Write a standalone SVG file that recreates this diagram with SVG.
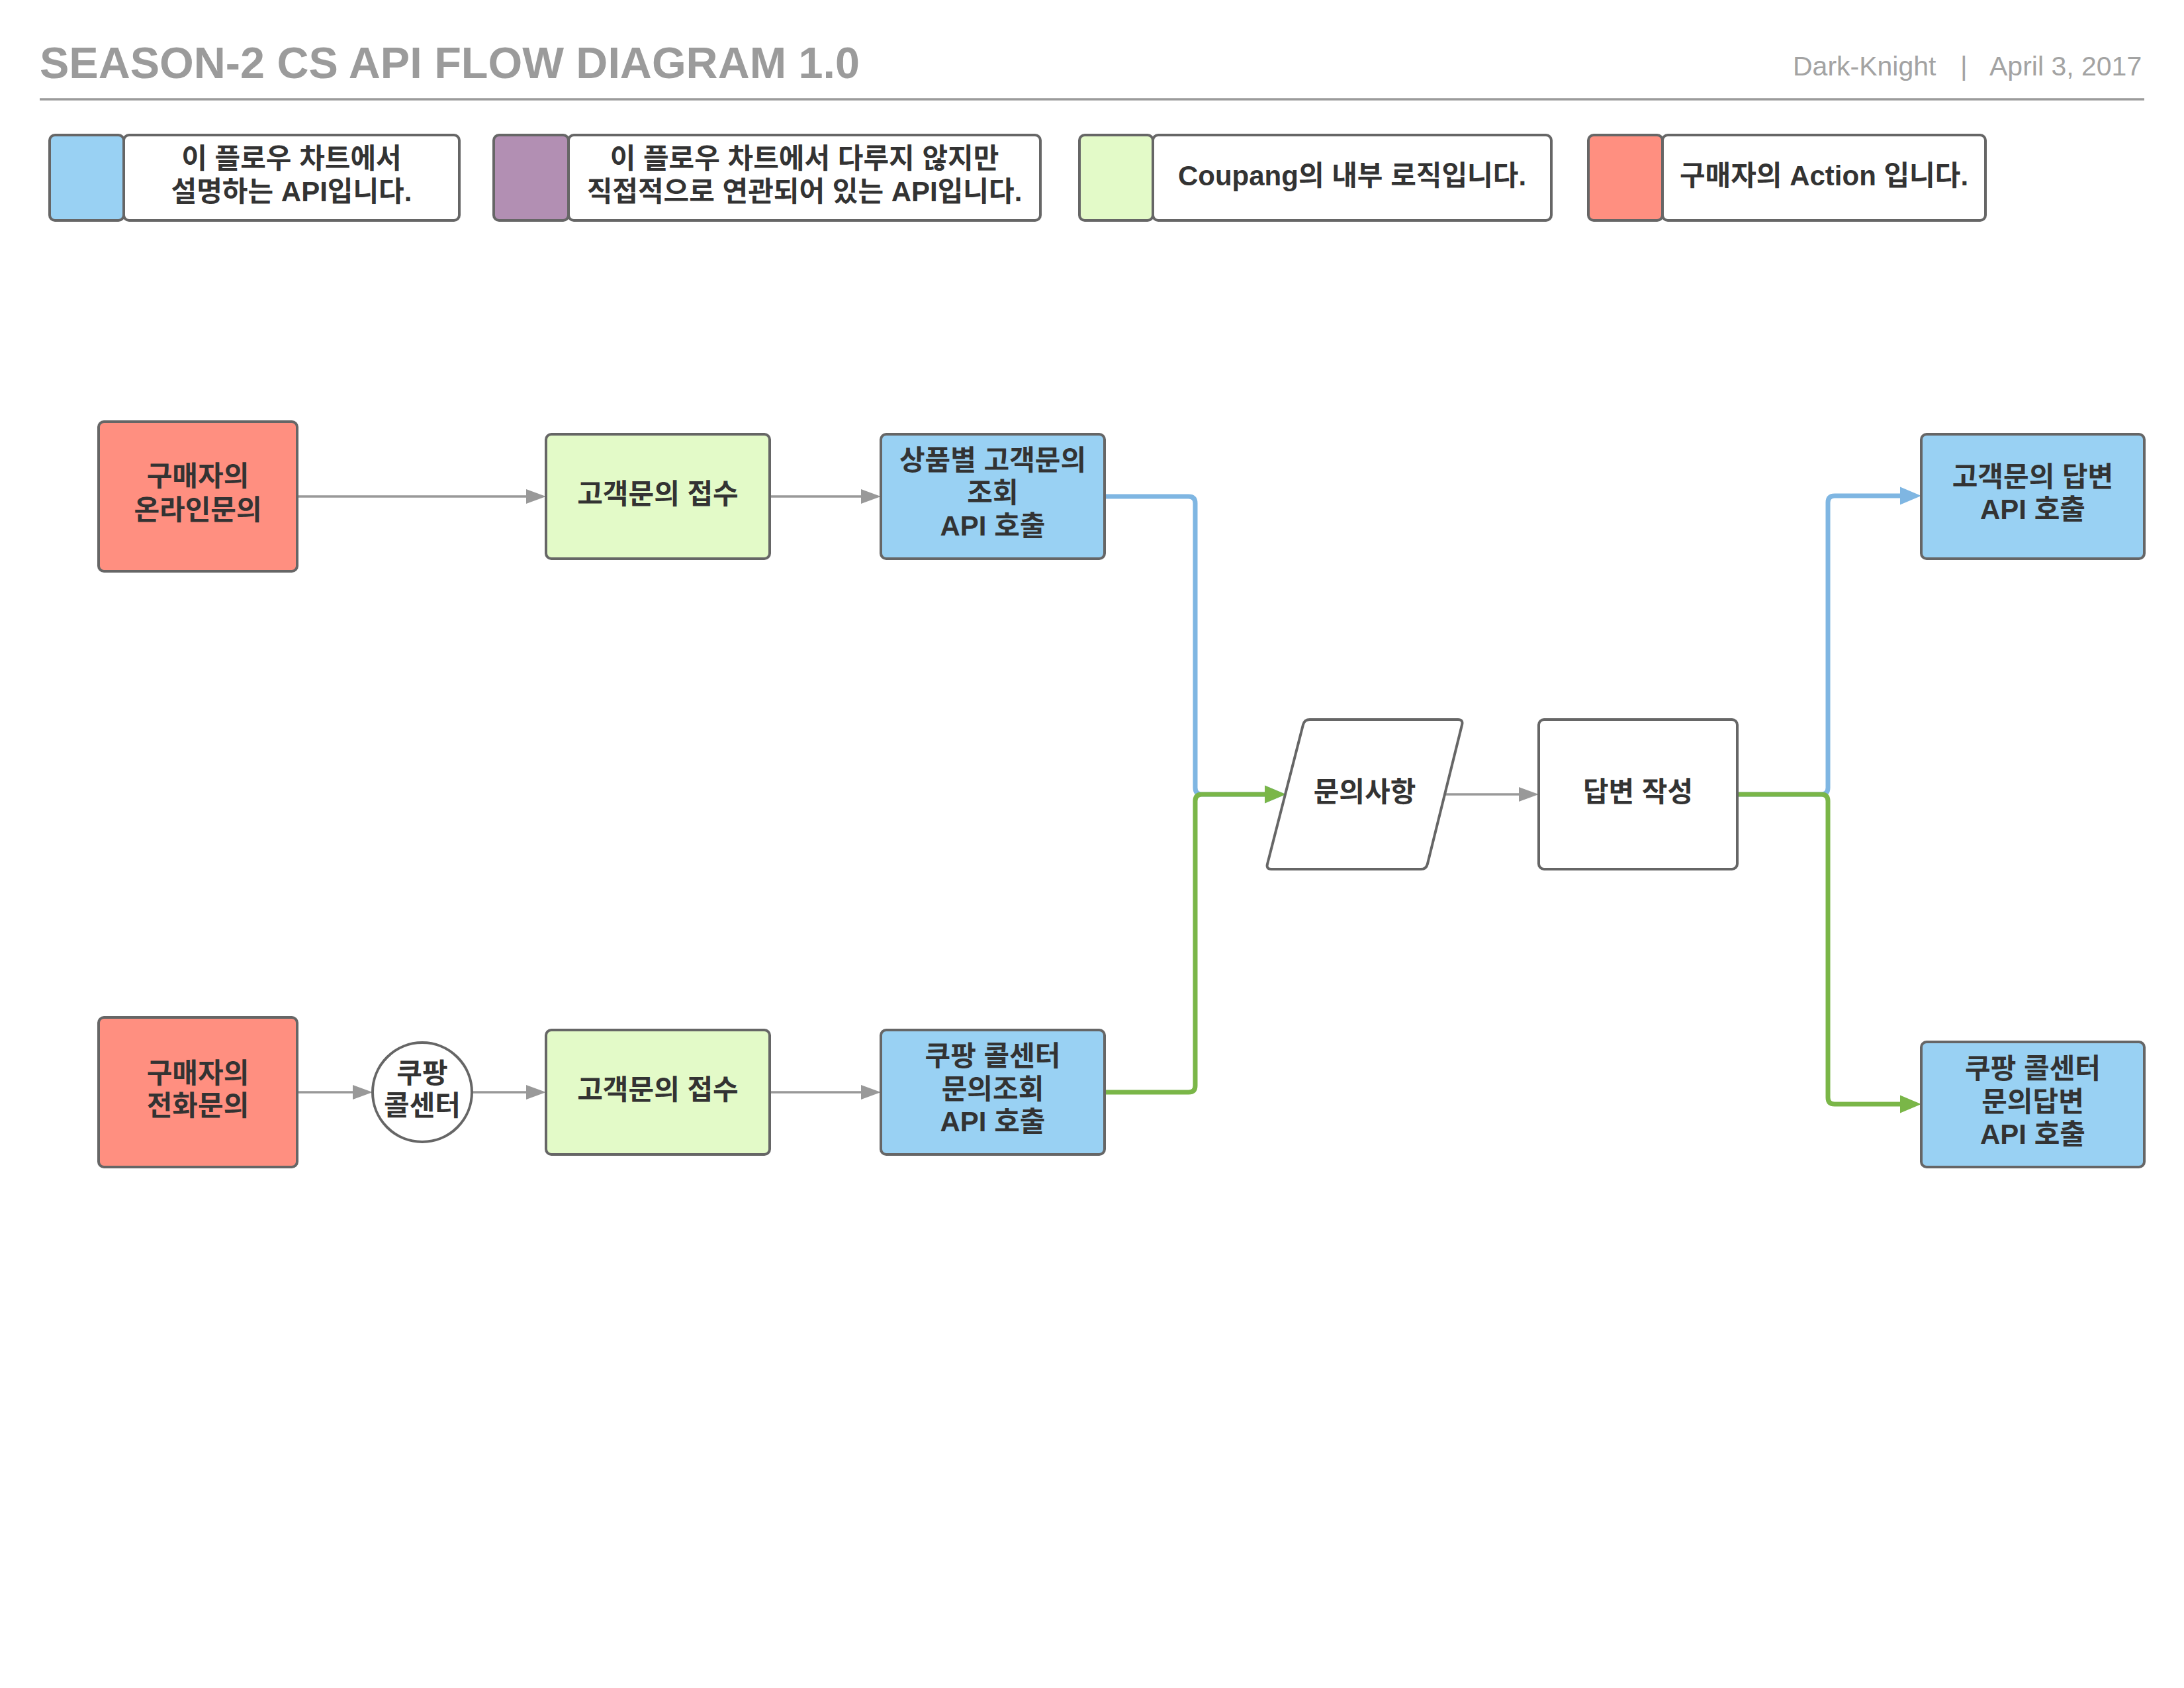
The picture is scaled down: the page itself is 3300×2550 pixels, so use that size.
<svg xmlns="http://www.w3.org/2000/svg" width="3300" height="2550" viewBox="0 0 3300 2550">
<style>
  text { font-family: "Liberation Sans", "Noto Sans CJK KR", sans-serif; }
  .lbl { font-size: 42px; font-weight: bold; fill: #333333; text-anchor: middle; }
  .node { stroke: #666666; stroke-width: 4; }
  .red { fill: #ff8f80; }
  .green { fill: #e3fac8; }
  .blue { fill: #99d1f3; }
  .purple { fill: #b28fb3; }
  .white { fill: #ffffff; }
  .gray-c { fill: none; stroke: #999999; stroke-width: 3.5; }
  .blue-c { fill: none; stroke: #7fb6e2; stroke-width: 7; }
  .green-c { fill: none; stroke: #7ab648; stroke-width: 7; }
</style>
<defs>
  <marker id="ahGray" markerUnits="userSpaceOnUse" markerWidth="31" markerHeight="23" refX="0" refY="11" orient="auto" overflow="visible">
    <path d="M0,0 L30,11 L0,22 Z" fill="#999999"/>
  </marker>
  <marker id="ahBlue" markerUnits="userSpaceOnUse" markerWidth="33" markerHeight="28" refX="0" refY="13.5" orient="auto" overflow="visible">
    <path d="M0,0 L32,13.5 L0,27 Z" fill="#7fb6e2"/>
  </marker>
  <marker id="ahGreen" markerUnits="userSpaceOnUse" markerWidth="33" markerHeight="28" refX="0" refY="13.5" orient="auto" overflow="visible">
    <path d="M0,0 L32,13.5 L0,27 Z" fill="#7ab648"/>
  </marker>
</defs>
<rect width="3300" height="2550" fill="#ffffff"/>

<g id="header">
  <text x="60" y="118" style="font-size:66.5px;font-weight:bold;fill:#9b9b9b">SEASON-2 CS API FLOW DIAGRAM 1.0</text>
  <text y="114" style="font-size:41px;fill:#a3a3a3">
    <tspan x="2709">Dark-Knight</tspan><tspan x="2962">|</tspan><tspan x="3006">April 3, 2017</tspan>
  </text>
  <line x1="60" y1="150" x2="3240" y2="150" stroke="#9b9b9b" stroke-width="3.5"/>
</g>

<g id="legend-api">
  <rect class="node blue" x="75" y="204" width="112" height="129" rx="8"/>
  <rect class="node white" x="187" y="204" width="507" height="129" rx="8"/>
  <text class="lbl" x="440.5" y="254">이 플로우 차트에서</text>
  <text class="lbl" x="440.5" y="304">설명하는 API입니다.</text>
</g>
<g id="legend-related">
  <rect class="node purple" x="746" y="204" width="113" height="129" rx="8"/>
  <rect class="node white" x="859" y="204" width="713" height="129" rx="8"/>
  <text class="lbl" x="1215.5" y="254">이 플로우 차트에서 다루지 않지만</text>
  <text class="lbl" x="1215.5" y="304">직접적으로 연관되어 있는 API입니다.</text>
</g>
<g id="legend-internal">
  <rect class="node green" x="1631" y="204" width="111" height="129" rx="8"/>
  <rect class="node white" x="1742" y="204" width="602" height="129" rx="8"/>
  <text class="lbl" x="2043" y="280">Coupang의 내부 로직입니다.</text>
</g>
<g id="legend-action">
  <rect class="node red" x="2400" y="204" width="112" height="129" rx="8"/>
  <rect class="node white" x="2512" y="204" width="488" height="129" rx="8"/>
  <text class="lbl" x="2756" y="280">구매자의 Action 입니다.</text>
</g>

<g id="connectors">
  <path class="gray-c" d="M449,750 L795,750" marker-end="url(#ahGray)"/>
  <path class="gray-c" d="M1163,750 L1301,750" marker-end="url(#ahGray)"/>
  <path class="gray-c" d="M2183,1200 L2295,1200" marker-end="url(#ahGray)"/>
  <path class="gray-c" d="M449,1650 L533,1650" marker-end="url(#ahGray)"/>
  <path class="gray-c" d="M713,1650 L795,1650" marker-end="url(#ahGray)"/>
  <path class="gray-c" d="M1163,1650 L1301,1650" marker-end="url(#ahGray)"/>
  <path class="blue-c" d="M1669,750 L1796,750 Q1806,750 1806,760 L1806,1190 Q1806,1200 1816,1200 L1911,1200" marker-end="url(#ahBlue)"/>
  <path class="green-c" d="M1669,1650 L1796,1650 Q1806,1650 1806,1640 L1806,1210 Q1806,1200 1816,1200 L1911,1200" marker-end="url(#ahGreen)"/>
  <path class="blue-c" d="M2625,1200 L2752,1200 Q2762,1200 2762,1190 L2762,759 Q2762,749 2772,749 L2871,749" marker-end="url(#ahBlue)"/>
  <path class="green-c" d="M2625,1200 L2752,1200 Q2762,1200 2762,1210 L2762,1658 Q2762,1668 2772,1668 L2871,1668" marker-end="url(#ahGreen)"/>
</g>

<g id="online-inquiry">
  <rect class="node red" x="149" y="637" width="300" height="226" rx="8"/>
  <text class="lbl" x="299" y="734">구매자의</text>
  <text class="lbl" x="299" y="785">온라인문의</text>
</g>
<g id="receive-top">
  <rect class="node green" x="825" y="656" width="338" height="188" rx="8"/>
  <text class="lbl" x="994" y="761">고객문의 접수</text>
</g>
<g id="product-inquiry-api">
  <rect class="node blue" x="1331" y="656" width="338" height="188" rx="8"/>
  <text class="lbl" x="1500" y="710">상품별 고객문의</text>
  <text class="lbl" x="1500" y="759">조회</text>
  <text class="lbl" x="1500" y="809">API 호출</text>
</g>
<g id="inquiry">
  <path class="node white" d="M1979,1087 L2203,1087 Q2211,1087 2209.1,1094.8 L2156.9,1305.2 Q2155,1313 2147,1313 L1921,1313 Q1913,1313 1915,1305.2 L1969,1094.8 Q1971,1087 1979,1087 Z"/>
  <text class="lbl" x="2062" y="1211">문의사항</text>
</g>
<g id="write-answer">
  <rect class="node white" x="2325" y="1087" width="300" height="226" rx="8"/>
  <text class="lbl" x="2475" y="1211">답변 작성</text>
</g>
<g id="answer-api">
  <rect class="node blue" x="2903" y="656" width="337" height="188" rx="8"/>
  <text class="lbl" x="3071.5" y="735">고객문의 답변</text>
  <text class="lbl" x="3071.5" y="784">API 호출</text>
</g>
<g id="phone-inquiry">
  <rect class="node red" x="149" y="1537" width="300" height="226" rx="8"/>
  <text class="lbl" x="299" y="1636">구매자의</text>
  <text class="lbl" x="299" y="1685">전화문의</text>
</g>
<g id="callcenter">
  <circle class="node white" cx="638" cy="1650" r="75"/>
  <text class="lbl" x="638" y="1636">쿠팡</text>
  <text class="lbl" x="638" y="1685">콜센터</text>
</g>
<g id="receive-bottom">
  <rect class="node green" x="825" y="1556" width="338" height="188" rx="8"/>
  <text class="lbl" x="994" y="1661">고객문의 접수</text>
</g>
<g id="callcenter-inquiry-api">
  <rect class="node blue" x="1331" y="1556" width="338" height="188" rx="8"/>
  <text class="lbl" x="1500" y="1610">쿠팡 콜센터</text>
  <text class="lbl" x="1500" y="1660">문의조회</text>
  <text class="lbl" x="1500" y="1709">API 호출</text>
</g>
<g id="callcenter-answer-api">
  <rect class="node blue" x="2903" y="1574" width="337" height="189" rx="8"/>
  <text class="lbl" x="3071.5" y="1629">쿠팡 콜센터</text>
  <text class="lbl" x="3071.5" y="1679">문의답변</text>
  <text class="lbl" x="3071.5" y="1728">API 호출</text>
</g>
</svg>
